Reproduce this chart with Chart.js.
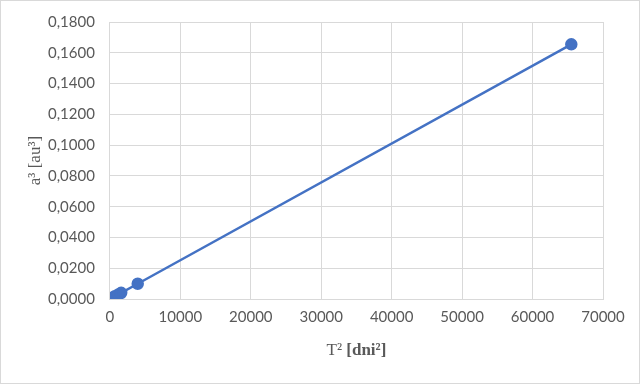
<!DOCTYPE html>
<html>
<head>
<meta charset="utf-8">
<script src="https://cdn.jsdelivr.net/npm/chart.js@4"></script>
<style>
  html, body { margin: 0; padding: 0; background: #fff; }
  #wrap { position: relative; width: 638px; height: 382px; border: 1px solid #d9d9d9; }
</style>
</head>
<body>
<div id="wrap"><canvas id="chart"></canvas></div>
<script>
// T^2 [dni^2] vs a^3 [au^3]
const periodSq = [0, 250, 700, 1200, 1600, 3950, 65500]
const axisCubed = [0.0000, 0.0006, 0.0018, 0.0030, 0.0040, 0.0099, 0.1655]

const xTicks = [0, 10000, 20000, 30000, 40000, 50000, 60000, 70000]
const yTicks = [0, 0.02, 0.04, 0.06, 0.08, 0.10, 0.12, 0.14, 0.16, 0.18]

const lineColor = '#4472c4'
const gridColor = '#d9d9d9'
const textColor = '#595959'

// axis titles drawn by hand (x title has a bold part)
const titlesPlugin = {
  id: 'axisTitles',
  afterDraw(chart) {
    const ctx = chart.ctx
    const area = chart.chartArea
    ctx.save()
    ctx.fillStyle = textColor
    ctx.textBaseline = 'middle'

    const parts = [
      { text: 'T² ', font: '17px "Liberation Serif"' },
      { text: '[dni²]', font: 'bold 17px "Liberation Serif"' }
    ]
    let total = 0
    parts.forEach(p => { ctx.font = p.font; p.w = ctx.measureText(p.text).width; total += p.w })
    let x = (area.left + area.right) / 2 - total / 2
    ctx.textAlign = 'left'
    parts.forEach(p => { ctx.font = p.font; ctx.fillText(p.text, x, 350); x += p.w })

    ctx.translate(35, (area.top + area.bottom) / 2)
    ctx.rotate(-Math.PI / 2)
    ctx.textAlign = 'center'
    ctx.font = '17px "Liberation Serif"'
    ctx.fillText('a³ [au³]', 0, 0)
    ctx.restore()
  }
}

new Chart(document.getElementById('chart'), {
  type: 'scatter',
  data: {
    datasets: [{
      data: periodSq.map((t, i) => ({ x: t, y: axisCubed[i] })),
      showLine: true,
      borderColor: lineColor,
      backgroundColor: lineColor,
      borderWidth: 2.5,
      pointRadius: 5,
      pointHoverRadius: 5
    }]
  },
  options: {
    responsive: true,
    maintainAspectRatio: false,
    animation: false,
    layout: { padding: { top: 0, right: 36, bottom: 48, left: 32 } },
    plugins: { legend: { display: false }, tooltip: { enabled: false } },
    scales: {
      x: {
        type: 'linear',
        min: 0, max: 70000,
        afterBuildTicks: axis => { axis.ticks = xTicks.map(v => ({ value: v })) },
        grid: { color: gridColor, drawTicks: false },
        border: { color: gridColor },
        ticks: {
          color: textColor,
          padding: 9,
          font: { family: 'Lato', size: 15 },
          callback: v => String(v)
        }
      },
      y: {
        min: 0, max: 0.18,
        afterBuildTicks: axis => { axis.ticks = yTicks.map(v => ({ value: v })) },
        grid: { color: gridColor, drawTicks: false },
        border: { color: gridColor },
        ticks: {
          color: textColor,
          padding: 15,
          font: { family: 'Lato', size: 15, lineHeight: 0.8 },
          callback: v => v.toFixed(4).replace('.', ',')
        }
      }
    }
  },
  plugins: [titlesPlugin]
})
</script>
</body>
</html>
